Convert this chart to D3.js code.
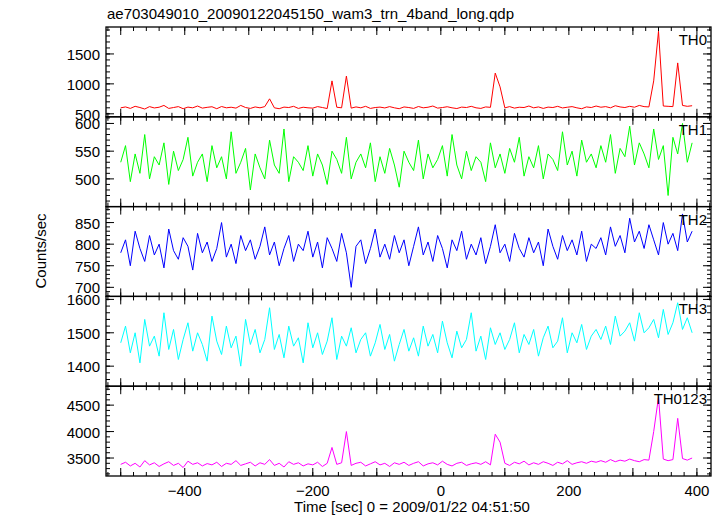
<!DOCTYPE html>
<html><head><meta charset="utf-8">
<script src="https://cdn.jsdelivr.net/npm/d3@7"></script>
<style>body{margin:0;background:#fff}text{font-family:"Liberation Sans",Arial,sans-serif}</style>
</head><body><svg id="chart" width="723" height="516"></svg>
<script>
// 7.5 s bins starting at -500 s
const t0 = -500, dt = 7.5;
const bandNames = ['TH0', 'TH1', 'TH2', 'TH3', 'TH0123'];
const bandColors = ['#ff0000', '#00ff00', '#0000ff', '#00ffff', '#ff00ff'];
const yDomains = [[450, 1950], [450, 612], [679, 887], [1340, 1609], [3160, 4858]];
const yTicks = [[500, 1000, 1500], [500, 550, 600], [700, 750, 800, 850], [1400, 1500, 1600], [3500, 4000, 4500]];
const yMinor = [100, 10, 10, 20, 100];
const xTicks = [-400, -200, 0, 200, 400];

const th0 = [600,615,590,625,605,580,620,598,610,640,590,605,620,585,612,600,630,595,608,618,
585,622,600,610,595,640,605,590,615,600,620,750,600,585,612,605,625,590,610,600,
595,620,605,588,1050,610,600,1130,595,615,600,625,590,605,612,598,620,600,585,615,
605,590,622,600,610,630,595,605,618,600,588,612,605,625,600,590,615,608,1180,950,
600,620,595,610,605,630,600,615,590,612,605,625,598,610,620,600,585,615,605,630,
610,620,600,635,615,605,625,610,640,620,615,1050,1880,630,625,620,1350,640,625,635];
const th1 = [530,560,495,545,510,580,500,540,525,565,490,550,515,535,575,505,530,545,495,560,
520,540,500,585,510,530,555,480,545,520,500,570,525,510,590,495,540,530,515,560,
505,545,525,490,550,535,510,575,500,530,545,520,565,495,540,510,555,525,485,550,
530,515,570,500,545,520,535,560,505,580,525,500,550,515,540,530,495,565,520,545,
510,555,530,575,505,540,520,560,500,545,535,515,585,525,550,505,570,530,545,520,
560,530,580,510,555,540,595,525,565,545,520,590,535,560,470,575,545,600,530,565];
const th2 = [780,810,750,830,790,760,820,775,800,745,835,785,765,815,795,740,825,780,805,760,
790,850,770,800,755,820,785,810,765,795,840,775,805,750,790,820,760,800,785,830,
770,805,745,815,790,760,825,780,700,795,810,755,790,835,770,800,765,820,780,810,
750,795,840,775,805,760,820,790,745,810,785,830,765,800,775,815,755,795,845,780,
800,760,825,790,770,815,780,805,750,835,795,765,820,785,810,775,830,760,800,790,
815,775,840,795,820,780,860,805,830,790,845,810,775,850,800,825,785,870,805,830];
const th3 = [1470,1520,1440,1500,1410,1540,1460,1490,1430,1560,1450,1510,1420,1480,1530,1445,1500,1465,1415,1550,
1475,1435,1520,1455,1490,1400,1540,1465,1510,1440,1480,1575,1450,1495,1425,1520,1460,1485,1410,1530,
1455,1500,1435,1475,1545,1420,1490,1460,1515,1440,1480,1500,1430,1470,1525,1450,1495,1415,1465,1510,
1445,1485,1430,1520,1460,1495,1440,1535,1470,1425,1505,1455,1480,1560,1445,1490,1420,1515,1465,1500,
1450,1480,1530,1440,1495,1465,1510,1430,1485,1520,1455,1475,1545,1440,1500,1470,1525,1450,1490,1510,
1480,1520,1465,1550,1490,1505,1530,1475,1560,1500,1515,1540,1485,1570,1495,1530,1590,1510,1545,1500];
const th0123 = [3380,3420,3350,3400,3330,3450,3370,3410,3340,3390,3430,3360,3400,3320,3440,3380,3410,3350,3395,3370,
3420,3340,3400,3380,3450,3360,3390,3420,3350,3410,3380,3470,3360,3400,3330,3430,3380,3410,3350,3390,
3370,3420,3340,3400,3700,3380,3410,4000,3360,3400,3420,3350,3390,3430,3370,3400,3340,3410,3380,3420,
3360,3400,3430,3350,3390,3410,3370,3440,3380,3350,3400,3420,3360,3390,3410,3380,3430,3370,3950,3800,
3400,3360,3420,3390,3440,3370,3410,3380,3430,3400,3360,3420,3390,3450,3380,3410,3430,3400,3440,3420,
3450,3420,3470,3430,3460,3440,3480,3450,3430,3470,3460,4000,4650,3480,3450,3470,4250,3490,3460,3500];
const series = [th0, th1, th2, th3, th0123];

const svg = d3.select('#chart');
const plotL = 106, plotR = 711, plotT = 27, panelH = 89.8;
const x = d3.scaleLinear().domain([-523, 422]).range([plotL, plotR]);

svg.append('text').attr('x', 107).attr('y', 19).attr('font-size', 15)
    .text('ae703049010_20090122045150_wam3_trn_4band_long.qdp');

series.forEach((vals, k) => {
    const y0 = plotT + k * panelH, y1 = y0 + panelH;
    const y = d3.scaleLinear().domain(yDomains[k]).range([y1, y0]);
    const g = svg.append('g');

    g.append('path')
        .datum(vals)
        .attr('fill', 'none')
        .attr('stroke', bandColors[k])
        .attr('stroke-width', 1)
        .attr('d', d3.line().x((d, i) => x(t0 + i * dt)).y(d => y(d)));

    // x ticks (top and bottom, inward)
    const xMaj = d3.range(-500, 401, 100), xMin = d3.range(-520, 421, 20);
    [[y1, -1], [y0, 1]].forEach(([yy, s]) => {
        xMin.forEach(v => g.append('line').attr('x1', x(v)).attr('x2', x(v))
            .attr('y1', yy).attr('y2', yy + s * 4).attr('stroke', '#000'));
        xMaj.forEach(v => g.append('line').attr('x1', x(v)).attr('x2', x(v))
            .attr('y1', yy).attr('y2', yy + s * 8).attr('stroke', '#000'));
    });
    // y ticks (left and right, inward)
    const yMinTicks = d3.range(Math.ceil(yDomains[k][0] / yMinor[k]) * yMinor[k], yDomains[k][1], yMinor[k]);
    [[plotL, 1], [plotR, -1]].forEach(([xx, s]) => {
        yMinTicks.forEach(v => g.append('line').attr('x1', xx).attr('x2', xx + s * 4)
            .attr('y1', y(v)).attr('y2', y(v)).attr('stroke', '#000'));
        yTicks[k].forEach(v => g.append('line').attr('x1', xx).attr('x2', xx + s * 8)
            .attr('y1', y(v)).attr('y2', y(v)).attr('stroke', '#000'));
    });
    yTicks[k].forEach(v => g.append('text').attr('x', plotL - 6).attr('y', y(v) + 6)
        .attr('text-anchor', 'end').attr('font-size', 15).text(v));

    g.append('rect').attr('x', plotL).attr('y', y0).attr('width', plotR - plotL).attr('height', panelH)
        .attr('fill', 'none').attr('stroke', '#000').attr('stroke-width', 1.3);
    g.append('text').attr('x', plotR - 4).attr('y', y0 + 18).attr('text-anchor', 'end')
        .attr('font-size', 15).text(bandNames[k]);
});

const plotB = plotT + 5 * panelH;
xTicks.forEach(v => svg.append('text').attr('x', x(v)).attr('y', plotB + 20)
    .attr('text-anchor', 'middle').attr('font-size', 15).text(v < 0 ? '\u2212' + (-v) : v));
svg.append('text').attr('x', 412).attr('y', 512).attr('text-anchor', 'middle').attr('font-size', 15)
    .text('Time [sec] 0 = 2009/01/22 04:51:50');
svg.append('text').attr('transform', 'translate(46,251) rotate(-90)').attr('text-anchor', 'middle')
    .attr('font-size', 15).text('Counts/sec');
</script></body></html>
